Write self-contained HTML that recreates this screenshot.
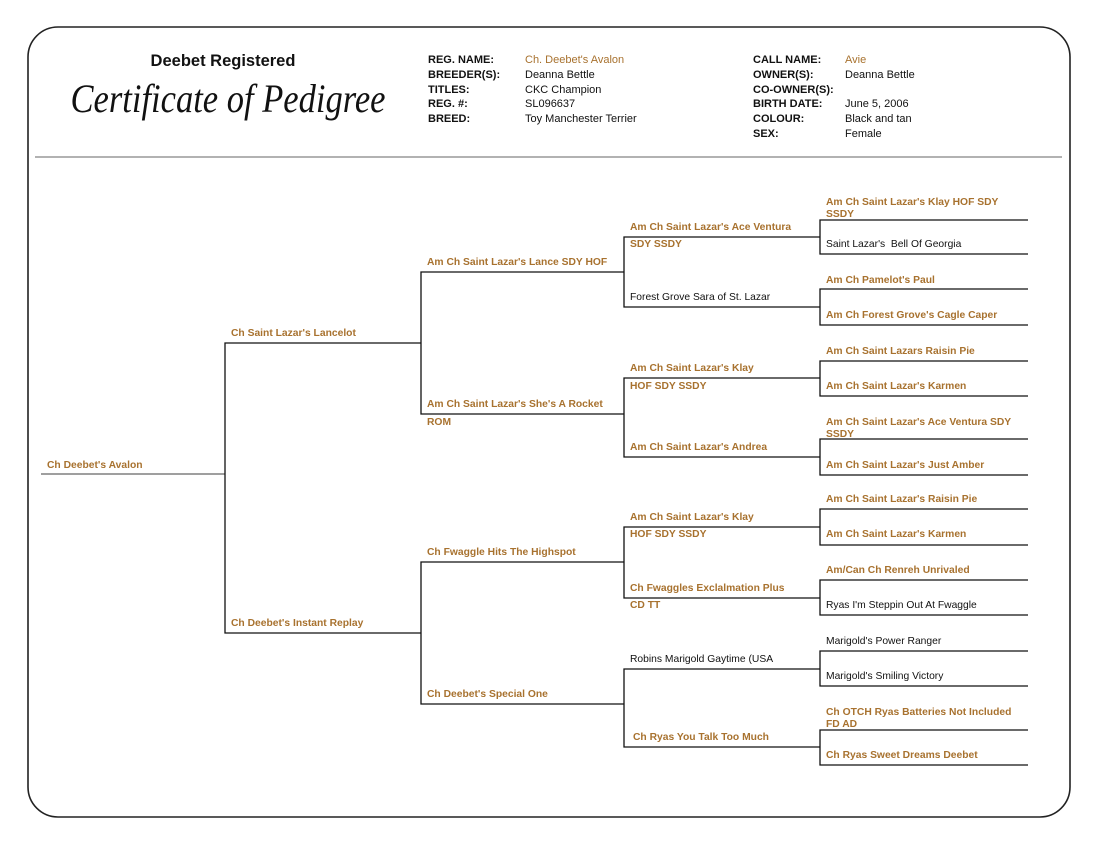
<!DOCTYPE html>
<html><head><meta charset="utf-8"><style>
html,body{margin:0;padding:0;background:#fff;width:1100px;height:845px;overflow:hidden}
svg{display:block}
.g{fill:#a8722f;font:bold 10.3px "Liberation Sans",sans-serif}
.k{fill:#111;font:10.3px "Liberation Sans",sans-serif}
.h{fill:#111;font:bold 11px "Liberation Sans",sans-serif}
.v{fill:#111;font:11px "Liberation Sans",sans-serif}
.vg{fill:#a8722f;font:11px "Liberation Sans",sans-serif}
</style></head><body>
<svg width="1100" height="845" viewBox="0 0 1100 845">
<rect x="28" y="27" width="1042" height="790" rx="30" ry="30" fill="none" stroke="#222" stroke-width="1.6"/>
<line x1="35" y1="157" x2="1062" y2="157" stroke="#999" stroke-width="1.5"/>
<text x="223" y="66" text-anchor="middle" style="font:bold 16.5px 'Liberation Sans',sans-serif" fill="#111">Deebet Registered</text>
<text x="228" y="112" text-anchor="middle" style="font:italic 40px 'Liberation Serif',serif" fill="#111" textLength="315" lengthAdjust="spacingAndGlyphs">Certificate of Pedigree</text>
<g>
<text class="h" x="428" y="63">REG. NAME:</text><text class="vg" x="525" y="63">Ch. Deebet's Avalon</text>
<text class="h" x="428" y="78">BREEDER(S):</text><text class="v" x="525" y="78">Deanna Bettle</text>
<text class="h" x="428" y="93">TITLES:</text><text class="v" x="525" y="93">CKC Champion</text>
<text class="h" x="428" y="107">REG. #:</text><text class="v" x="525" y="107">SL096637</text>
<text class="h" x="428" y="122">BREED:</text><text class="v" x="525" y="122">Toy Manchester Terrier</text>
<text class="h" x="753" y="63">CALL NAME:</text><text class="vg" x="845" y="63">Avie</text>
<text class="h" x="753" y="78">OWNER(S):</text><text class="v" x="845" y="78">Deanna Bettle</text>
<text class="h" x="753" y="93">CO-OWNER(S):</text>
<text class="h" x="753" y="107">BIRTH DATE:</text><text class="v" x="845" y="107">June 5, 2006</text>
<text class="h" x="753" y="122">COLOUR:</text><text class="v" x="845" y="122">Black and tan</text>
<text class="h" x="753" y="137">SEX:</text><text class="v" x="845" y="137">Female</text>
</g>
<g stroke="#111" stroke-width="1.3" fill="none">
<line x1="41" y1="474" x2="225" y2="474" stroke="#666"/>
<path d="M421 343H225V633H421"/>
<path d="M624 272H421V414H624"/>
<path d="M624 562H421V704H624"/>
<path d="M820 237H624V307H820"/>
<path d="M820 378H624V457H820"/>
<path d="M820 527H624V598H820"/>
<path d="M820 669H624V747H820"/>
<path d="M1028 220H820V254H1028"/>
<path d="M1028 289H820V325H1028"/>
<path d="M1028 361H820V396H1028"/>
<path d="M1028 439H820V475H1028"/>
<path d="M1028 509H820V545H1028"/>
<path d="M1028 580H820V615H1028"/>
<path d="M1028 651H820V686H1028"/>
<path d="M1028 730H820V765H1028"/>
</g>
<text class="g" x="47" y="468">Ch Deebet's Avalon</text>
<text class="g" x="231" y="336">Ch Saint Lazar's Lancelot</text>
<text class="g" x="231" y="626">Ch Deebet's Instant Replay</text>
<text class="g" x="427" y="265">Am Ch Saint Lazar's Lance SDY HOF</text>
<text class="g" x="427" y="407">Am Ch Saint Lazar's She's A Rocket</text>
<text class="g" x="427" y="425">ROM</text>
<text class="g" x="427" y="555">Ch Fwaggle Hits The Highspot</text>
<text class="g" x="427" y="697">Ch Deebet's Special One</text>
<text class="g" x="630" y="230">Am Ch Saint Lazar's Ace Ventura</text>
<text class="g" x="630" y="247">SDY SSDY</text>
<text class="k" x="630" y="300">Forest Grove Sara of St. Lazar</text>
<text class="g" x="630" y="371">Am Ch Saint Lazar's Klay</text>
<text class="g" x="630" y="389">HOF SDY SSDY</text>
<text class="g" x="630" y="450">Am Ch Saint Lazar's Andrea</text>
<text class="g" x="630" y="520">Am Ch Saint Lazar's Klay</text>
<text class="g" x="630" y="537">HOF SDY SSDY</text>
<text class="g" x="630" y="591">Ch Fwaggles Exclalmation Plus</text>
<text class="g" x="630" y="608">CD TT</text>
<text class="k" x="630" y="662">Robins Marigold Gaytime (USA</text>
<text class="g" x="633" y="740">Ch Ryas You Talk Too Much</text>
<text class="g" x="826" y="205">Am Ch Saint Lazar's Klay HOF SDY</text>
<text class="g" x="826" y="217">SSDY</text>
<text class="k" x="826" y="247" xml:space="preserve">Saint Lazar's  Bell Of Georgia</text>
<text class="g" x="826" y="283">Am Ch Pamelot's Paul</text>
<text class="g" x="826" y="318">Am Ch Forest Grove's Cagle Caper</text>
<text class="g" x="826" y="354">Am Ch Saint Lazars Raisin Pie</text>
<text class="g" x="826" y="389">Am Ch Saint Lazar's Karmen</text>
<text class="g" x="826" y="425">Am Ch Saint Lazar's Ace Ventura SDY</text>
<text class="g" x="826" y="437">SSDY</text>
<text class="g" x="826" y="468">Am Ch Saint Lazar's Just Amber</text>
<text class="g" x="826" y="502">Am Ch Saint Lazar's Raisin Pie</text>
<text class="g" x="826" y="537">Am Ch Saint Lazar's Karmen</text>
<text class="g" x="826" y="573">Am/Can Ch Renreh Unrivaled</text>
<text class="k" x="826" y="608">Ryas I'm Steppin Out At Fwaggle</text>
<text class="k" x="826" y="644">Marigold's Power Ranger</text>
<text class="k" x="826" y="679">Marigold's Smiling Victory</text>
<text class="g" x="826" y="715">Ch OTCH Ryas Batteries Not Included</text>
<text class="g" x="826" y="727">FD AD</text>
<text class="g" x="826" y="758">Ch Ryas Sweet Dreams Deebet</text>
</svg>
</body></html>
